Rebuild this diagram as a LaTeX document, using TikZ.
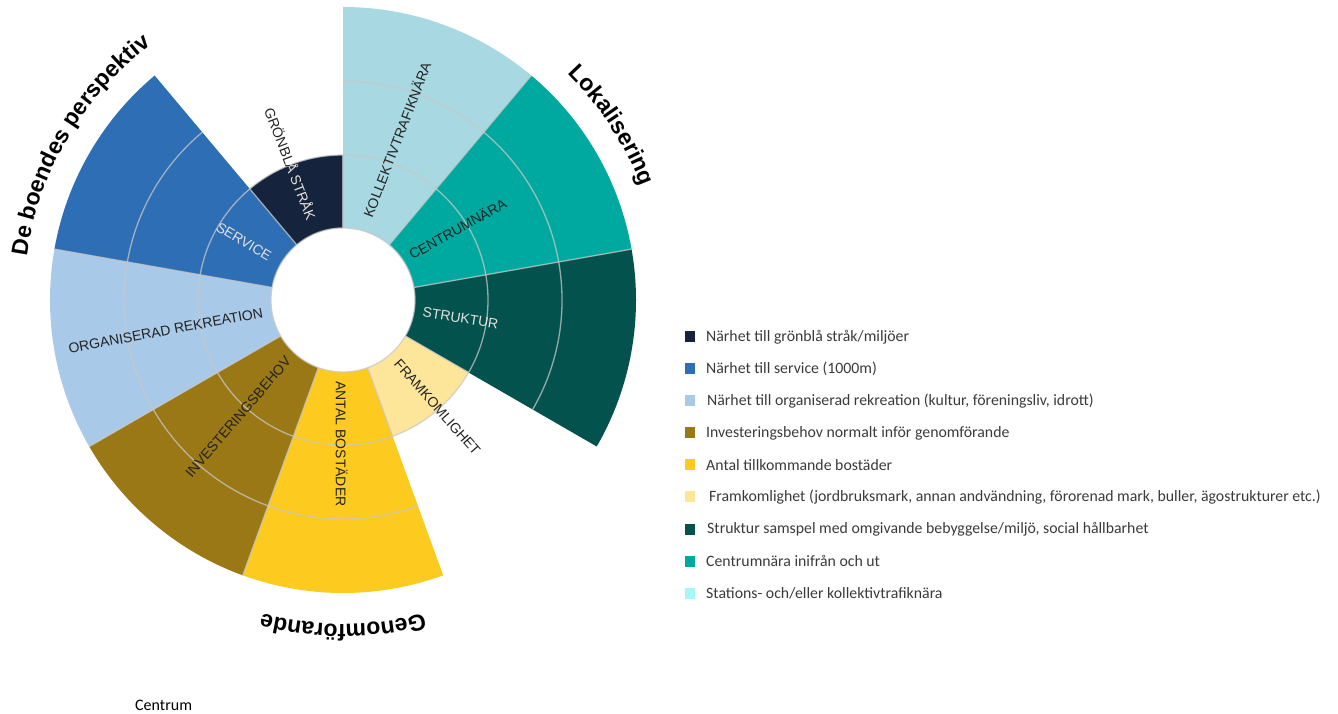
\documentclass[tikz,border=0pt]{standalone}
\usepackage{fontspec}
\setmainfont{Liberation Sans}
\newfontfamily\legfont{Carlito}
\usetikzlibrary{decorations.text}
\definecolor{cGron}{HTML}{15243C}
\definecolor{cServ}{HTML}{2E6EB5}
\definecolor{cOrg}{HTML}{A9C9E8}
\definecolor{cInv}{HTML}{9A7816}
\definecolor{cAnt}{HTML}{FDCB20}
\definecolor{cFram}{HTML}{FDE69A}
\definecolor{cStr}{HTML}{03524D}
\definecolor{cCen}{HTML}{00A99F}
\definecolor{cKol}{HTML}{A8D8E2}
\definecolor{cKolLeg}{HTML}{A6F7F7}
\definecolor{labdark}{HTML}{222222}
\definecolor{lablight}{HTML}{E2E2E2}
\definecolor{legtext}{HTML}{3A3A3A}
\definecolor{gridc}{HTML}{C8C8C8}
\newcommand\sektor[4]{\fill[#4] (#1:72pt) arc[start angle=#1, end angle=#2, radius=72pt] -- (#2:#3) arc[start angle=#2, end angle=#1, radius=#3] -- cycle;}
\newcommand\titlefont{\bfseries\fontsize{23}{23}\selectfont}
\begin{document}
\begin{tikzpicture}[
  gridline/.style={draw=gridc, line width=1.3pt, opacity=0.75},
  lab/.style={font=\fontsize{14}{14}\selectfont, inner sep=0pt, text=labdark},
  labw/.style={lab, text=lablight},
  legsq/.style={minimum width=10pt, minimum height=11pt, inner sep=0pt, draw=none},
  legtxt/.style={anchor=west, font=\legfont\fontsize{15.8}{16}\selectfont, text=legtext, inner sep=0pt},
  titlepath/.style={decorate, decoration={text along path, text align=center, text={|\titlefont|#1}}},
]
\useasboundingbox (-343pt,-414pt) rectangle (995pt,300pt);
% sectors
\sektor{50}{90}{293pt}{cKol}
\sektor{10}{50}{293pt}{cCen}
\sektor{-30}{10}{293pt}{cStr}
\sektor{-70}{-30}{145pt}{cFram}
\sektor{-110}{-70}{293pt}{cAnt}
\sektor{-150}{-110}{293pt}{cInv}
\sektor{170}{210}{293pt}{cOrg}
\sektor{130}{170}{293pt}{cServ}
\sektor{90}{130}{145pt}{cGron}
% grid lines
\draw[gridline] (0,0) circle[radius=72pt];
\draw[gridline] (0,0) circle[radius=145pt];
\draw[gridline] (-30:219pt) arc[start angle=-30, end angle=90, radius=219pt];
\draw[gridline] (130:219pt) arc[start angle=130, end angle=290, radius=219pt];
\foreach \a/\r in {10/293,50/293,90/145,130/145,170/293,210/293,250/293,290/145,330/145}
  \draw[gridline] (\a:72pt) -- (\a:\r pt);
% labels
\node[lab, rotate=69] (lKol) at (71.5:169pt) {KOLLEKTIVTRAFIKNÄRA};
\node[lab, rotate=29] (lCen) at (32:135pt) {CENTRUMNÄRA};
\node[labw, rotate=-9] (lStr) at (-8.8:119pt) {STRUKTUR};
\node[lab, rotate=-48.6] (lFram) at (-48.7:143pt) {FRAMKOMLIGHET};
\node[lab, rotate=-90] (lAnt) at (-90.5:144pt) {ANTAL BOSTÄDER};
\node[lab, rotate=49.4] (lInv) at (228.1:157pt) {INVESTERINGSBEHOV};
\node[lab, rotate=10.6] (lOrg) at (189.8:180pt) {ORGANISERAD REKREATION};
\node[labw, rotate=-30.7] (lSer) at (149.5:115pt) {SERVICE};
\node[lab, rotate=-69] (lGron) at (110.9:146pt) {GRÖNBLÅ STRÅK};
\begin{scope}
  \clip (90:72pt) arc[start angle=90, end angle=130, radius=72pt] -- (130:145pt) arc[start angle=130, end angle=90, radius=145pt] -- cycle;
  \node[labw, rotate=-69] (lGronW) at (110.9:146pt) {GRÖNBLÅ STRÅK};
\end{scope}
% titles
\path[titlepath={De boendes perspektiv}] (189.5:319pt) arc[start angle=189.5, end angle=109.5, radius=319pt];
\path[titlepath={Lokalisering}] (53:319pt) arc[start angle=53, end angle=13, radius=319pt];
\path[titlepath={Genomförande}] (-70:324pt) arc[start angle=-70, end angle=-110, radius=324pt];
% legend
\node[legsq, fill=cGron] (lq1) at (347pt,-37pt) {};
\node[legtxt] (lt1) at (363pt,-37pt) {Närhet till grönblå stråk/miljöer};
\node[legsq, fill=cServ] (lq2) at (347pt,-69pt) {};
\node[legtxt] (lt2) at (363pt,-69pt) {Närhet till service (1000m)};
\node[legsq, fill=cOrg] (lq3) at (347pt,-101pt) {};
\node[legtxt] (lt3) at (364pt,-101pt) {Närhet till organiserad rekreation (kultur, föreningsliv, idrott)};
\node[legsq, fill=cInv] (lq4) at (347pt,-133pt) {};
\node[legtxt] (lt4) at (363pt,-133pt) {Investeringsbehov normalt inför genomförande};
\node[legsq, fill=cAnt] (lq5) at (347pt,-165pt) {};
\node[legtxt] (lt5) at (363pt,-165pt) {Antal tillkommande bostäder};
\node[legsq, fill=cFram] (lq6) at (347pt,-197pt) {};
\node[legtxt] (lt6) at (366pt,-197pt) {Framkomlighet (jordbruksmark, annan andvändning, förorenad mark, buller, ägostrukturer etc.)};
\node[legsq, fill=cStr] (lq7) at (347pt,-229pt) {};
\node[legtxt] (lt7) at (364pt,-229pt) {Struktur samspel med omgivande bebyggelse/miljö, social hållbarhet};
\node[legsq, fill=cCen] (lq8) at (347pt,-261pt) {};
\node[legtxt] (lt8) at (363pt,-261pt) {Centrumnära inifrån och ut};
\node[legsq, fill=cKolLeg] (lq9) at (347pt,-293pt) {};
\node[legtxt] (lt9) at (363pt,-293pt) {Stations- och/eller kollektivtrafiknära};
% bottom caption
\node[anchor=west, font=\legfont\fontsize{16}{16}\selectfont, inner sep=0pt] (centrum) at (-208pt,-405pt) {Centrum};
\end{tikzpicture}
\end{document}
